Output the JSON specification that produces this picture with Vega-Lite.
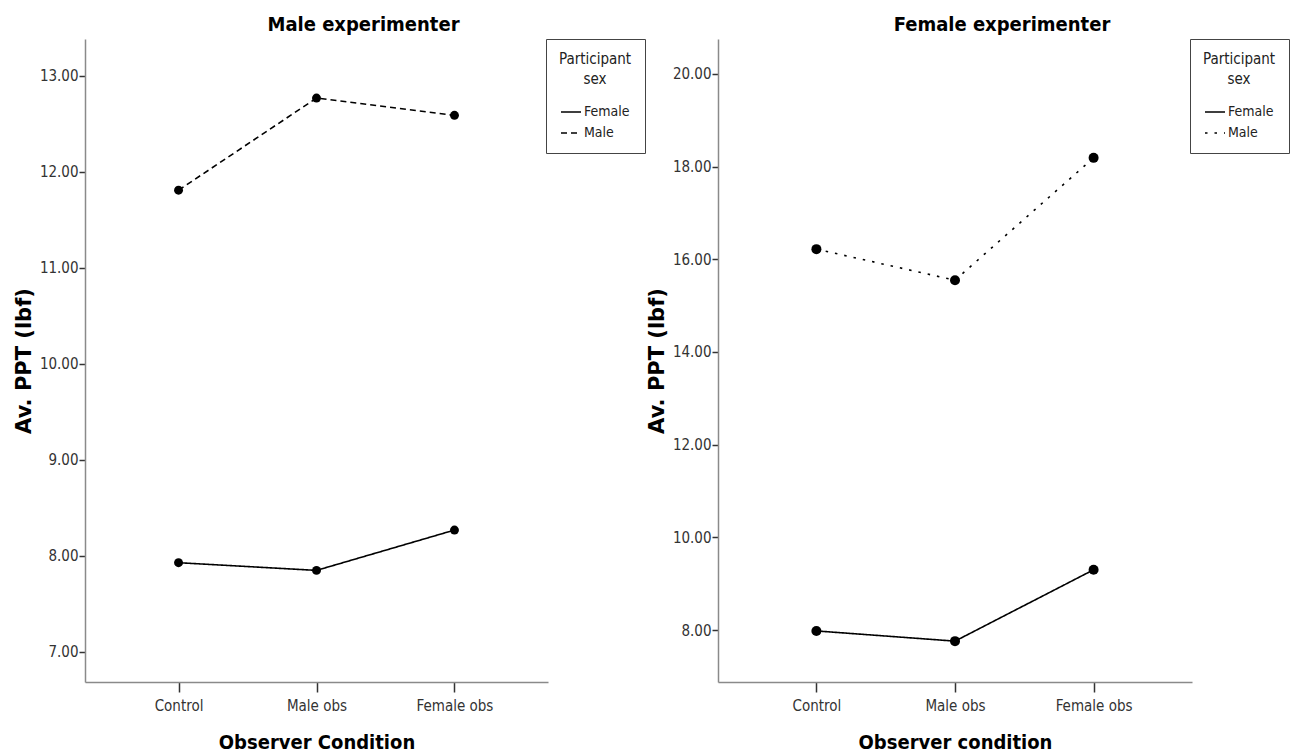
{
  "$schema": "https://vega.github.io/schema/vega-lite/v6.json",
  "background": "white",
  "padding": {"left": 13, "top": 14, "right": 2, "bottom": 0},
  "spacing": 0,
  "config": {
    "view": {"stroke": null},
    "font": "Liberation Sans Narrow, DejaVu Sans Condensed, Roboto Condensed, Liberation Sans",
    "axis": {
      "domainColor": "#8a8a8a",
      "domainWidth": 1.5,
      "tickColor": "#333333",
      "tickWidth": 1.5,
      "grid": false,
      "labelColor": "#333333",
      "labelFontSize": 15,
      "labelFont": "Liberation Sans Narrow, DejaVu Sans Condensed, Roboto Condensed, Liberation Sans",
      "titleColor": "black"
    },
    "axisY": {
      "tickSize": 6,
      "labelPadding": 1,
      "titleFont": "DejaVu Sans",
      "titleFontSize": 21,
      "titleFontWeight": "bold",
      "titlePadding": 5
    },
    "axisX": {
      "tickSize": 10,
      "labelPadding": 6,
      "labelAngle": 0,
      "titleFont": "Liberation Sans Narrow, DejaVu Sans Condensed, Roboto Condensed, Liberation Sans",
      "titleFontSize": 20,
      "titleFontWeight": "bold",
      "titlePadding": 19
    },
    "legend": {
      "orient": "right",
      "strokeColor": "#444444",
      "fillColor": "white",
      "padding": 13,
      "cornerRadius": 0,
      "titleFontSize": 15,
      "titleFontWeight": "normal",
      "titleColor": "#222222",
      "titleAnchor": "middle",
      "titleAlign": "center",
      "titleLineHeight": 20,
      "titlePadding": 14,
      "labelFontSize": 14,
      "labelColor": "#222222",
      "labelOffset": 2,
      "symbolType": "stroke",
      "symbolSize": 400,
      "symbolStrokeWidth": 1.5,
      "symbolStrokeColor": "black",
      "rowPadding": 3
    },
    "title": {
      "fontSize": 20,
      "fontWeight": "bold",
      "color": "black",
      "anchor": "middle",
      "frame": "group",
      "offset": 4
    }
  },
  "resolve": {"scale": {"strokeDash": "independent"}, "legend": {"strokeDash": "independent"}},
  "hconcat": [
    {
      "title": {"text": "Male experimenter", "dx": 47},
      "width": 463,
      "height": 643,
      "data": {"values": [
        {"condition": "Control", "sex": "Female", "ppt": 7.93},
        {"condition": "Male obs", "sex": "Female", "ppt": 7.85},
        {"condition": "Female obs", "sex": "Female", "ppt": 8.27},
        {"condition": "Control", "sex": "Male", "ppt": 11.81},
        {"condition": "Male obs", "sex": "Male", "ppt": 12.77},
        {"condition": "Female obs", "sex": "Male", "ppt": 12.59}
      ]},
      "encoding": {
        "x": {"field": "condition", "type": "nominal", "sort": ["Control", "Male obs", "Female obs"], "scale": {"type": "point", "padding": 0.678}, "axis": {"title": "Observer Condition"}},
        "y": {"field": "ppt", "type": "quantitative", "scale": {"domain": [6.6875, 13.385], "nice": false, "zero": false}, "axis": {"title": "Av. PPT (lbf)", "values": [7, 8, 9, 10, 11, 12, 13], "format": ".2f"}}
      },
      "layer": [
        {
          "mark": {"type": "line", "color": "black", "strokeWidth": 1.6},
          "encoding": {
            "strokeDash": {"field": "sex", "type": "nominal", "scale": {"domain": ["Female", "Male"], "range": [[1, 0], [6, 4]]}, "legend": {"title": ["Participant", "sex"], "offset": -2}}
          }
        },
        {
          "mark": {"type": "point", "filled": true, "color": "black", "size": 80, "opacity": 1},
          "encoding": {"detail": {"field": "sex"}}
        }
      ]
    },
    {
      "title": {"text": "Female experimenter", "dx": 47},
      "width": 474,
      "height": 643,
      "data": {"values": [
        {"condition": "Control", "sex": "Female", "ppt": 7.98},
        {"condition": "Male obs", "sex": "Female", "ppt": 7.76},
        {"condition": "Female obs", "sex": "Female", "ppt": 9.3},
        {"condition": "Control", "sex": "Male", "ppt": 16.22},
        {"condition": "Male obs", "sex": "Male", "ppt": 15.55},
        {"condition": "Female obs", "sex": "Male", "ppt": 18.19}
      ]},
      "encoding": {
        "x": {"field": "condition", "type": "nominal", "sort": ["Control", "Male obs", "Female obs"], "scale": {"type": "point", "padding": 0.71}, "axis": {"title": "Observer condition"}},
        "y": {"field": "ppt", "type": "quantitative", "scale": {"domain": [6.878, 20.755], "nice": false, "zero": false}, "axis": {"title": "Av. PPT (lbf)", "values": [8, 10, 12, 14, 16, 18, 20], "format": ".2f"}}
      },
      "layer": [
        {
          "mark": {"type": "line", "color": "black", "strokeWidth": 1.6},
          "encoding": {
            "strokeDash": {"field": "sex", "type": "nominal", "scale": {"domain": ["Female", "Male"], "range": [[1, 0], [2.5, 7]]}, "legend": {"title": ["Participant", "sex"], "offset": -2}}
          }
        },
        {
          "mark": {"type": "point", "filled": true, "color": "black", "size": 100, "opacity": 1},
          "encoding": {"detail": {"field": "sex"}}
        }
      ]
    }
  ]
}
